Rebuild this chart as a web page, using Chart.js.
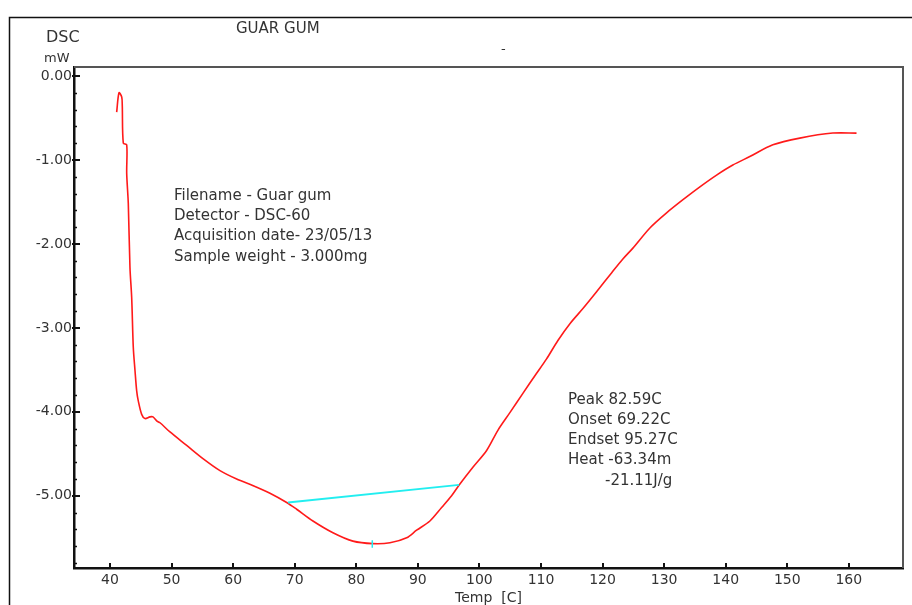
<!DOCTYPE html>
<html>
<head>
<meta charset="utf-8">
<script src="https://cdn.jsdelivr.net/npm/chart.js@4"></script>
<style>
  body { margin: 0; background: #fff; }
  canvas { display: block; }
</style>
</head>
<body>
<canvas id="dscChart" width="912" height="605"></canvas>
<script>
// DSC trace of guar gum
const tempC = [41.08, 41.46, 41.90, 41.99, 42.16, 42.71, 42.71, 42.97, 43.24, 43.52, 43.78, 44.06, 44.33, 44.59, 45.14, 45.68, 46.49, 46.98, 47.63, 48.12,
  49.74, 52.45, 55.15, 57.86, 60.57, 63.27, 65.98, 68.69, 70.31, 72.96, 76.21, 79.46, 82.70, 85.47, 88.18, 89.80, 91.96, 93.86, 95.48, 96.83,
  98.94, 101.17, 103.0, 104.95, 107.06, 109.01, 110.91, 112.75, 114.70, 116.81, 119.03, 121.52, 123.30, 124.93, 127.69, 130.40, 133.65, 135.81,
  138.52, 141.16, 143.92, 147.66, 152.04, 157.40, 161.25];
const dscMw = [-0.43, -0.20, -0.25, -0.35, -0.80, -0.82, -1.16, -1.52, -2.28, -2.64, -3.23, -3.51, -3.75, -3.87, -4.03, -4.08, -4.06, -4.06, -4.11, -4.13,
  -4.24, -4.40, -4.56, -4.70, -4.80, -4.88, -4.97, -5.08, -5.16, -5.30, -5.44, -5.54, -5.57, -5.56, -5.50, -5.41, -5.30, -5.14, -5.00, -4.86,
  -4.66, -4.46, -4.22, -4.01, -3.78, -3.57, -3.37, -3.15, -2.95, -2.77, -2.57, -2.34, -2.18, -2.05, -1.81, -1.63, -1.44, -1.32,
  -1.18, -1.06, -0.96, -0.82, -0.74, -0.68, -0.68];

// baseline between onset and endset, and the peak marker
const baselineTemp = [68.9, 96.7];
const baselineDsc = [-5.08, -4.87];
const peakTemp = [82.6, 82.6];
const peakDsc = [-5.53, -5.62];

const xTicks = [40, 50, 60, 70, 80, 90, 100, 110, 120, 130, 140, 150, 160];
const yTicks = [0, -1, -2, -3, -4, -5];
const yMinorTicks = [-0.2, -0.4, -0.6, -0.8, -1.2, -1.4, -1.6, -1.8, -2.2, -2.4, -2.6, -2.8,
  -3.2, -3.4, -3.6, -3.8, -4.2, -4.4, -4.6, -4.8, -5.2, -5.4, -5.6, -5.8];

const infoLeft = ['Filename - Guar gum', 'Detector - DSC-60', 'Acquisition date- 23/05/13', 'Sample weight - 3.000mg'];
const infoPeak = ['Peak 82.59C', 'Onset 69.22C', 'Endset 95.27C', 'Heat -63.34m'];

const FONT = "'DejaVu Sans', sans-serif";
const TEXT = '#333';

function toPoints(xs, ys) {
  return xs.map((x, i) => ({ x: x, y: ys[i] }));
}

const frame = {
  id: 'frame',
  beforeDraw(chart) {
    const ctx = chart.ctx;
    ctx.save();
    ctx.fillStyle = '#fff';
    ctx.fillRect(0, 0, chart.width, chart.height);
    // outer box
    ctx.strokeStyle = '#111';
    ctx.lineWidth = 1.5;
    ctx.beginPath();
    ctx.moveTo(9.5, chart.height);
    ctx.lineTo(9.5, 17.5);
    ctx.lineTo(chart.width, 17.5);
    ctx.stroke();
    ctx.restore();
  },
  afterDatasetsDraw(chart) {
    const ctx = chart.ctx;
    const a = chart.chartArea;
    const xs = chart.scales.x;
    const ys = chart.scales.y;
    ctx.save();
    // top and right of the plot box
    ctx.strokeStyle = '#555';
    ctx.lineWidth = 2;
    ctx.beginPath();
    ctx.moveTo(a.left, a.top);
    ctx.lineTo(a.right, a.top);
    ctx.lineTo(a.right, a.bottom);
    ctx.stroke();

    // tick marks inside the box
    ctx.strokeStyle = '#111';
    ctx.lineWidth = 2;
    ctx.beginPath();
    xTicks.forEach(v => {
      const px = Math.round(xs.getPixelForValue(v));
      ctx.moveTo(px, a.bottom);
      ctx.lineTo(px, a.bottom - 5);
    });
    yTicks.forEach(v => {
      const py = Math.round(ys.getPixelForValue(v));
      ctx.moveTo(a.left - 2, py);
      ctx.lineTo(a.left + 6, py);
    });
    ctx.stroke();
    ctx.lineWidth = 1.5;
    ctx.beginPath();
    yMinorTicks.forEach(v => {
      const py = Math.round(ys.getPixelForValue(v)) + 0.5;
      ctx.moveTo(a.left, py);
      ctx.lineTo(a.left + 3, py);
    });
    ctx.stroke();

    // header and notes
    ctx.fillStyle = TEXT;
    ctx.textBaseline = 'middle';
    ctx.textAlign = 'left';
    ctx.font = '15px ' + FONT;
    ctx.fillText('GUAR GUM', 236, 29);
    ctx.font = '16px ' + FONT;
    ctx.fillText('DSC', 46, 38);
    ctx.font = '13px ' + FONT;
    ctx.fillText('mW', 44, 59);
    ctx.fillText('-', 501, 50);

    ctx.font = '15px ' + FONT;
    infoLeft.forEach((t, i) => ctx.fillText(t, 174, 196 + i * 20.3));
    infoPeak.forEach((t, i) => ctx.fillText(t, 568, 400 + i * 20.2));
    ctx.fillText('-21.11J/g', 605, 481);
    ctx.restore();
  }
};

new Chart(document.getElementById('dscChart'), {
  type: 'line',
  data: {
    datasets: [
      {
        data: toPoints(tempC, dscMw),
        borderColor: '#ff1a1a',
        borderWidth: 1.6,
        pointRadius: 0,
        tension: 0.3,
        order: 2
      },
      {
        data: toPoints(baselineTemp, baselineDsc),
        borderColor: '#22eef0',
        borderWidth: 2,
        pointRadius: 0,
        order: 1
      },
      {
        data: toPoints(peakTemp, peakDsc),
        borderColor: '#22eef0',
        borderWidth: 1.5,
        pointRadius: 0,
        order: 1
      }
    ]
  },
  options: {
    responsive: false,
    animation: false,
    devicePixelRatio: 1,
    layout: { padding: { left: 0, top: 67, right: 9, bottom: 0 } },
    plugins: {
      legend: { display: false },
      tooltip: { enabled: false }
    },
    scales: {
      x: {
        type: 'linear',
        min: 34.15,
        max: 168.8,
        afterBuildTicks: s => { s.ticks = xTicks.map(v => ({ value: v })); },
        afterFit: s => { s.height = 37; },
        grid: { display: false, drawTicks: false },
        border: { display: true, color: '#111', width: 2.5 },
        ticks: {
          color: TEXT,
          padding: 4,
          maxRotation: 0,
          autoSkip: false,
          font: { family: FONT, size: 14 },
          callback: v => String(v)
        },
        title: {
          display: true,
          text: 'Temp  [C]',
          color: TEXT,
          padding: { top: 0, bottom: -2 },
          font: { family: FONT, size: 14 }
        }
      },
      y: {
        type: 'linear',
        min: -5.86,
        max: 0.107,
        afterBuildTicks: s => { s.ticks = yTicks.map(v => ({ value: v })); },
        afterFit: s => { s.width = 74; },
        grid: { display: false, drawTicks: false },
        border: { display: true, color: '#111', width: 2.5 },
        ticks: {
          color: TEXT,
          padding: 2,
          autoSkip: false,
          font: { family: FONT, size: 14 },
          callback: v => v.toFixed(2)
        }
      }
    }
  },
  plugins: [frame]
});
</script>
</body>
</html>
